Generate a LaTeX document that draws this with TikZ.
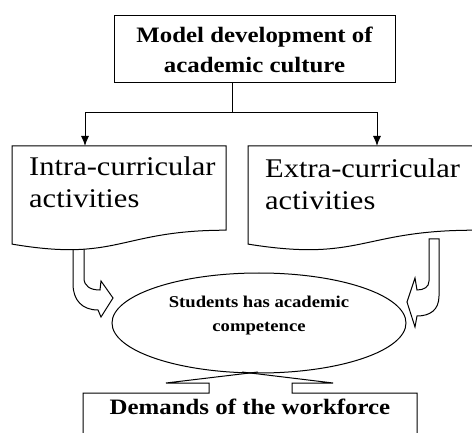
\documentclass[tikz,border=0pt]{standalone}
\usepackage{fontspec}
\setmainfont{Liberation Serif}
\usepackage{graphicx}
\usetikzlibrary{arrows.meta,shapes.geometric}
% widen lettering horizontally
\newcommand{\stretchx}[1]{\scalebox{1.13}[1]{#1}}
\begin{document}
\begin{tikzpicture}[x=1pt,y=1pt,
  outline/.style={draw=black, line width=1pt, line join=miter},
  conn/.style={line width=1pt},
  connarr/.style={conn, -{Latex[length=10pt,width=8pt]}},
  title/.style={font=\fontsize{22}{30}\selectfont\bfseries, align=center, inner sep=0pt},
  doctext/.style={font=\fontsize{27}{32}\selectfont, align=left, inner sep=0pt, anchor=north west},
  ovaltext/.style={font=\fontsize{16.5}{24}\selectfont\bfseries, align=center, inner sep=0pt}]
\useasboundingbox (0,0) rectangle (472,-433);

% heading box
\node[outline, rectangle, minimum width=281pt, minimum height=67pt, title] (model) at (254.5,-49.5)
  {\stretchx{Model development of}\\\stretchx{academic culture}};

% branching connector
\coordinate (split) at (232,-113);
\coordinate (intratop) at (85,-146);
\coordinate (extratop) at (377,-146);
\draw[conn] (model.south -| split) -- (split);
\draw[connarr] (split) -| (intratop);
\draw[connarr] (split) -| (extratop);

% document outlines with wavy bottoms
\draw[outline] (12,-146) -- (226,-146) -- (226,-230.2)
  .. controls (119,-230.2) and (119,-262.3) .. (12,-244.1) -- cycle;
\draw[outline] (248,-146) -- (474,-146) -- (474,-230.2)
  .. controls (361,-230.2) and (361,-262.3) .. (248,-244.1) -- cycle;
\node[doctext] (intra) at (29,-156.6) {\stretchx{Intra-curricular}\\\stretchx{activities}};
\node[doctext] (extra) at (265,-158.6) {\stretchx{Extra-curricular}\\\stretchx{activities}};

% central oval
\node[outline, ellipse, minimum width=294pt, minimum height=100pt, inner sep=0pt] (comp) at (259,-323) {};
\node[ovaltext] (comptext) at (259,-316) {\stretchx{Students has academic}\\\stretchx{competence}};

% curved block arrows into the oval
\draw[outline] (73,-249.7) -- (73,-284) .. controls (73,-300) and (82,-310) .. (98,-310)
  -- (101,-317) -- (113,-298) -- (101,-281) -- (100,-290)
  .. controls (90,-290) and (84,-286) .. (84,-278) -- (84,-249.2);
\draw[outline] (429,-239) -- (439,-239) -- (439,-296) .. controls (439,-310) and (430,-316) .. (417,-316)
  -- (415,-327) -- (407,-302) -- (415,-278) -- (417,-290)
  .. controls (424,-290) and (429,-287) .. (429,-281) -- cycle;

% workforce box with upward block arrow
\draw[outline] (83,-436) -- (83,-393) -- (209,-393) -- (209,-383) -- (166,-383) -- (258,-372);
\draw[outline] (242,-372) -- (333,-383) -- (292,-383) -- (292,-393) -- (417,-393) -- (417,-436);
\node[font=\fontsize{22}{26}\selectfont\bfseries, inner sep=0pt, anchor=base] (demand) at (250,-414)
  {\stretchx{Demands of the workforce}};
\end{tikzpicture}
\end{document}
